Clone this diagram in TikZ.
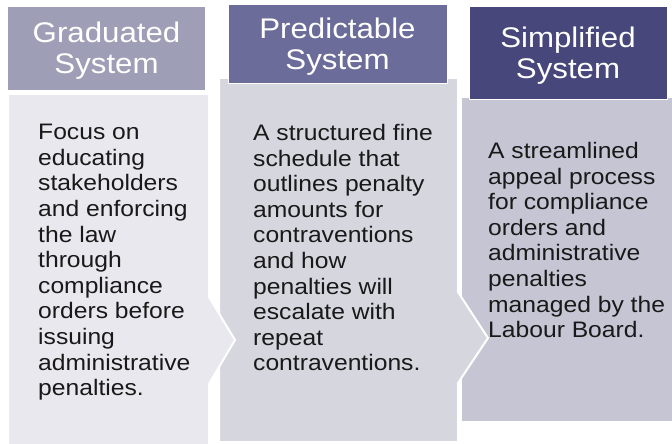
\documentclass[tikz,border=0pt]{standalone}
\usepackage{fontspec}
\setmainfont[FakeStretch=1.1]{Liberation Sans}
\definecolor{headA}{HTML}{9E9EB6}
\definecolor{headB}{HTML}{6C6C9A}
\definecolor{headC}{HTML}{47477B}
\definecolor{bodyA}{HTML}{E9E8EF}
\definecolor{bodyB}{HTML}{D6D6DF}
\definecolor{bodyC}{HTML}{C5C5D4}
\tikzset{
    headbox/.style={fill=#1, draw=white, line width=1bp, inner sep=0pt},
    headtext/.style={text=white, align=center, inner sep=0pt, yshift=-2bp,
        font=\fontsize{28.5}{31}\selectfont},
    bodybox/.style={fill=#1, draw=white, line width=2bp},
    bodytext/.style={anchor=north west, align=left, inner sep=0pt, text=black!90,
        font=\fontsize{22.5}{25.7}\selectfont}
}
\begin{document}
\begin{tikzpicture}[x=1bp, y=-1bp]
    \useasboundingbox (0, 0) rectangle (672, 444);
    \fill[white] (0, 0) rectangle (672, 444);
    \draw[bodybox=bodyC] (461, 97) rectangle (674, 422);
    \draw[bodybox=bodyB] (219, 78) -- (458, 78) -- (458, 292) -- (488, 338) -- (458, 383) -- (458, 442) -- (219, 442) -- cycle;
    \draw[bodybox=bodyA] (8, 94) -- (209, 94) -- (209, 297) -- (235, 340) -- (209, 384) -- (209, 446) -- (8, 446) -- cycle;
    \node[headbox=headA, minimum width=197bp, minimum height=84bp] (grad) at (106.5, 49) {};
    \node[headbox=headB, minimum width=219bp, minimum height=79bp] (pred) at (337.5, 44.5) {};
    \node[headbox=headC, minimum width=198bp, minimum height=93bp] (simp) at (568, 53.5) {};
    \node[headtext] (gradtitle) at (grad) {Graduated\\System};
    \node[headtext] (predtitle) at (pred) {Predictable\\System};
    \node[headtext] (simptitle) at (simp) {Simplified\\System};
    \node[bodytext] (gradtext) at (38, 124) {Focus on\\educating\\stakeholders\\and enforcing\\the law\\through\\compliance\\orders before\\issuing\\administrative\\penalties.};
    \node[bodytext] (predtext) at (253, 124) {A structured fine\\schedule that\\outlines penalty\\amounts for\\contraventions\\and how\\penalties will\\escalate with\\repeat\\contraventions.};
    \node[bodytext] (simptext) at (488, 142) {A streamlined\\appeal process\\for compliance\\orders and\\administrative\\penalties\\managed by the\\Labour Board.};
\end{tikzpicture}
\end{document}
